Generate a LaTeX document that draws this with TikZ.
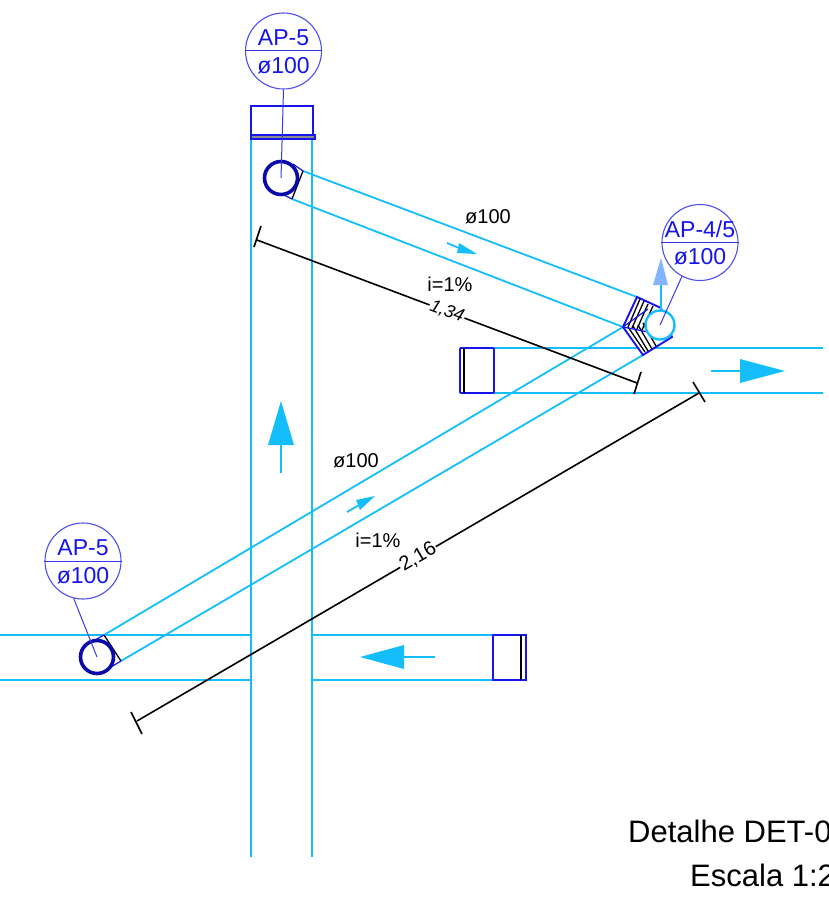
\documentclass[tikz,border=0pt]{standalone}
\usepackage{fontspec}
\setmainfont{Liberation Sans}
\usepackage{xcolor}
\usetikzlibrary{positioning}
\definecolor{pipeCyan}{RGB}{20,190,250}
\definecolor{fitBlue}{RGB}{20,20,235}
\definecolor{drainBlue}{RGB}{10,10,170}
\definecolor{ventBlue}{RGB}{130,180,255}

\begin{document}
\begin{tikzpicture}[x=1pt, y=-1pt,
pipe/.style = {draw=pipeCyan, line width=1.8pt},
fit/.style = {draw=fitBlue, line width=1.9pt},
hatch/.style = {draw=black, line width=1.3pt},
dim/.style = {draw=black, line width=1.6pt},
leader/.style = {draw=fitBlue!85, line width=1pt},
bubble/.style = {circle, draw=fitBlue!75, line width=1.1pt, minimum size=76pt, inner sep=0pt},
bubbleText/.style = {text=fitBlue, font=\fontsize{23}{25}\selectfont, inner sep=0pt},
flow/.style = {fill=pipeCyan, draw=none},
note/.style = {text=black, font=\fontsize{20}{22}\selectfont, inner sep=0pt},
dimText/.style = {note, fill=white, inner sep=1pt},
title/.style = {text=black, font=\fontsize{31}{33}\selectfont, inner sep=0pt, anchor=base west}]
\useasboundingbox (0,0) rectangle (828,899);
\clip (0,0) rectangle (828,899);

% pipes
\draw[pipe] (251,138) -- (251,857);
\draw[pipe] (312,138) -- (312,857);
\draw[pipe] (0,635) -- (251,635);
\draw[pipe] (0,680) -- (251,680);
\draw[pipe] (312,635) -- (493,635);
\draw[pipe] (312,680) -- (493,680);
\draw[pipe] (494,348) -- (823,348);
\draw[pipe] (494,393) -- (823,393);

% end caps
\draw[fit] (251,106) rectangle (313,135);
\draw[fit, fill=black!45] (251,135) rectangle (315,139);
\draw[fit, rounded corners=1pt] (460,348) -- (460,393) -- (494,393) -- (494,348) -- cycle;
\draw[hatch] (464,348) -- (464,393);
\draw[fit] (493,635) rectangle (526,680);
\draw[hatch] (521,635) -- (521,680);

% branch coordinates
\coordinate (topA) at (303,171);
\coordinate (topB) at (292,199);
\coordinate (lowA) at (104,635);
\coordinate (lowB) at (121,661);
\coordinate (elbowT) at (637,297);
\coordinate (elbowL) at (623,327);
\coordinate (elbowB) at (643,355);
\coordinate (drainTop) at (281,178);
\coordinate (drainLow) at (97,657);
\coordinate (drainRight) at (660,325);

\draw[pipe] (topA) -- (elbowT);
\draw[pipe] (topB) -- (elbowL);
\draw[pipe] (lowA) -- (elbowL);
\draw[pipe] (lowB) -- (elbowB);

% top and low outlets
\draw[hatch] (topA) -- (topB);
\draw[fit, line width=1.2pt] (293,164) -- (topA);
\draw[fit, line width=1.2pt] (284,195) -- (topB);
\draw[hatch] (lowA) -- (lowB);
\draw[fit, line width=1.2pt] (95,640) -- (lowA);
\draw[fit, line width=1.2pt] (111,667) -- (lowB);
\draw[draw=drainBlue, line width=3.6pt, fill=white] (drainTop) circle (16.5);
\draw[draw=drainBlue, line width=3.6pt, fill=white] (drainLow) circle (16.5);

% elbow
\draw[fit, fill=white] (elbowT) -- (661,308) -- (672,337) -- (elbowB) -- (elbowL) -- cycle;
\draw[hatch] (640,299) -- (628,327);
\draw[hatch] (644,301) -- (632,328);
\draw[hatch] (648,304) -- (637,329);
\draw[hatch] (653,306) -- (642,330);
\draw[hatch] (628,327) -- (645,352);
\draw[hatch] (633,326) -- (648,351);
\draw[hatch] (638,325) -- (652,349);
\draw[hatch] (643,323) -- (656,346);
\draw[fit, line width=1.2pt] (elbowL) -- (648,309);
\draw[fit, line width=1.2pt] (elbowL) -- (648,332);
\draw[draw=pipeCyan, line width=2.4pt, fill=white] (drainRight) circle (14.5);

% vent
\draw[pipe] (661,310) -- (661,285);
\fill[ventBlue] (653,285) -- (668,285) -- (661,258) -- cycle;

% flow arrows
\draw[pipe] (281,473) -- (281,445);
\fill[flow] (268,445) -- (294,445) -- (281,401) -- cycle;
\draw[pipe] (711,371) -- (740,371);
\fill[flow] (740,359) -- (740,383) -- (785,371) -- cycle;
\draw[pipe] (435,657) -- (404,657);
\fill[flow] (404,645) -- (404,669) -- (360,657) -- cycle;
\draw[pipe] (447,243) -- (459,248);
\fill[flow] (459,243) -- (457,253) -- (477,254) -- cycle;
\draw[pipe] (347,512) -- (359,505);
\fill[flow] (356,500) -- (360,510) -- (375,496) -- cycle;

% dimensions
\coordinate (dimAa) at (257,240);
\coordinate (dimAb) at (637,383);
\coordinate (dimBa) at (137,721);
\coordinate (dimBb) at (699,393);
\draw[dim] (dimAa) -- node[dimText, rotate=-20.6, font=\fontsize{18}{20}\selectfont\itshape] {1,34} (dimAb);
\draw[dim] (261,226) -- (254,247);
\draw[dim] (641,372) -- (634,394);
\draw[dim] (dimBa) -- node[dimText, rotate=30.3] {2,16} (dimBb);
\draw[dim] (131,712) -- (142,734);
\draw[dim] (693,382) -- (705,402);

\node[note] (diamTop) at (488,217) {ø100};
\node[note] (slopeTop) at (450,284) {i=1\%};
\node[note] (diamLow) at (356,461) {ø100};
\node[note] (slopeLow) at (378,540) {i=1\%};

% bubbles
\node[bubble] (bubTop) at (283.5,51) {};
\node[bubble] (bubLow) at (83,561) {};
\node[bubble] (bubRight) at (700,242.5) {};
\foreach \bub/\txt in {bubTop/AP-5, bubLow/AP-5, bubRight/AP-4\slash 5}{
  \draw[leader] (\bub.west) -- (\bub.east);
  \node[bubbleText, above=5pt of \bub.center] (\bub Name) {\txt};
  \node[bubbleText, below=6pt of \bub.center] (\bub Size) {ø100};
}
\draw[leader] (bubTop.south) -- (drainTop);
\draw[leader] (bubLow.-104) -- (drainLow);
\draw[leader] (bubRight.-118) -- (drainRight);

% title
\node[title] (detail) at (628,842) {Detalhe DET-0};
\node[title] (scale) at (690,886) {Escala 1:2};
\end{tikzpicture}
\end{document}
